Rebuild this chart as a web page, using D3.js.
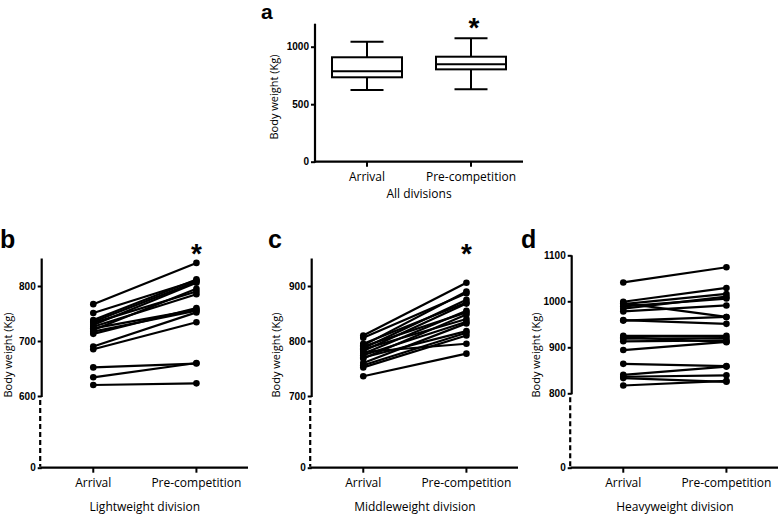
<!DOCTYPE html>
<html><head><meta charset="utf-8">
<script src="https://cdn.jsdelivr.net/npm/d3@7"></script>
<style>
html,body{margin:0;padding:0;background:#fff;}
svg{display:block;}
</style></head>
<body>
<svg id="chart" width="779" height="514"></svg>
<script>
// ---------- DATA ----------
const categories = ["Arrival", "Pre-competition"];
// panel a: box plot (all divisions)
const boxMin    = [623, 630];
const boxQ1     = [734, 803];
const boxMedian = [786, 847];
const boxQ3     = [908, 913];
const boxMax    = [1043, 1073];
const boxTicks  = [0, 500, 1000];

// panel b: lightweight division
const lightArrival = [767, 751, 738, 735, 733, 729, 726, 723, 720, 717, 713, 690, 685, 652, 634, 620];
const lightPre     = [842, 810, 812, 808, 790, 806, 785, 757, 795, 755, 760, 752, 734, 659, 660, 623];
const lightTicks   = [0, 600, 700, 800];

// panel c: middleweight division
const midArrival = [810, 806, 795, 792, 790, 787, 785, 782, 780, 777, 774, 770, 768, 760, 756, 752, 736];
const midPre     = [906, 887, 870, 890, 852, 875, 840, 868, 795, 855, 835, 818, 848, 832, 815, 810, 777];
const midTicks   = [0, 700, 800, 900];

// panel d: heavyweight division
const heavyArrival = [1041, 999, 996, 994, 989, 984, 978, 959, 958, 925, 922, 919, 913, 894, 864, 840, 836, 833, 817];
const heavyPre     = [1074, 1029, 966, 1016, 1006, 1010, 991, 951, 966, 925, 911, 920, 915, 912, 859, 858, 839, 825, 827];
const heavyTicks   = [0, 800, 900, 1000, 1100];

// ---------- DRAWING ----------
const svg = d3.select("#chart");
const labelFont = "'Open Sans', 'DejaVu Sans', sans-serif";
const tickFont = "'Liberation Sans', Arial, sans-serif";
const ink = "#000";

function yAxisDraw(g, x, y, ticks, breakVal) {
  const ax = g.append("g").attr("transform", `translate(${x},0)`);
  const axis = d3.axisLeft(y).tickValues(ticks).tickSize(4).tickPadding(2).tickFormat(d3.format("d"));
  ax.call(axis);
  ax.select(".domain").remove();
  ax.selectAll(".tick line").attr("stroke", ink).attr("stroke-width", 2);
  ax.selectAll(".tick text").attr("font-family", tickFont).attr("font-weight", "bold")
    .attr("font-size", 10).attr("fill", ink);
  const top = y.range()[y.range().length - 1];
  if (breakVal != null) {
    g.append("line").attr("x1", x).attr("x2", x).attr("y1", top).attr("y2", y(breakVal) + 1)
      .attr("stroke", ink).attr("stroke-width", 2.2);
    g.append("line").attr("x1", x - 1.5).attr("x2", x - 1.5).attr("y1", y(breakVal) + 4).attr("y2", y(0) - 1)
      .attr("stroke", ink).attr("stroke-width", 2.2).attr("stroke-dasharray", "5,3");
  } else {
    g.append("line").attr("x1", x).attr("x2", x).attr("y1", top).attr("y2", y(0) + 1)
      .attr("stroke", ink).attr("stroke-width", 2.2);
  }
}

function xAxisDraw(g, xs, y0, xLeft, xRight) {
  g.append("line").attr("x1", xLeft - 1).attr("x2", xRight).attr("y1", y0).attr("y2", y0)
    .attr("stroke", ink).attr("stroke-width", 2.2);
  categories.forEach(c => {
    g.append("line").attr("x1", xs(c)).attr("x2", xs(c)).attr("y1", y0).attr("y2", y0 + 5)
      .attr("stroke", ink).attr("stroke-width", 2);
  });
}

function catLabels(g, xs, yBase, title, titleY) {
  categories.forEach(c => {
    g.append("text").attr("x", xs(c)).attr("y", yBase).attr("text-anchor", "middle")
      .attr("font-family", labelFont).attr("font-size", 12).attr("fill", ink).text(c);
  });
  g.append("text").attr("x", (xs(categories[0]) + xs(categories[1])) / 2).attr("y", titleY)
    .attr("text-anchor", "middle").attr("font-family", labelFont).attr("font-size", 12)
    .attr("fill", ink).text(title);
}

function yTitle(g, x, y) {
  g.append("text").attr("transform", `translate(${x},${y}) rotate(-90)`)
    .attr("text-anchor", "middle").attr("dominant-baseline", "central")
    .attr("font-family", labelFont).attr("font-size", 11).attr("fill", ink).text("Body weight (Kg)");
}

function panelLetter(x, y, t, size) {
  svg.append("text").attr("x", x).attr("y", y).attr("font-family", tickFont)
    .attr("font-weight", "bold").attr("font-size", size || 25).attr("fill", ink).text(t);
}

function star(x, yc) {
  svg.append("text").attr("x", x).attr("y", yc + 16).attr("text-anchor", "middle")
    .attr("font-family", tickFont).attr("font-weight", "bold").attr("font-size", 28)
    .attr("fill", ink).text("*");
}

// ----- Panel a -----
(function () {
  const g = svg.append("g");
  const x0 = 315, x1 = 523;
  const y = d3.scaleLinear().domain([0, 1200]).range([161.7, 23.7]);
  const xs = d3.scalePoint().domain(categories).range([x0, x1]).padding(0.5);
  yAxisDraw(g, x0, y, boxTicks, null);
  xAxisDraw(g, xs, y(0), x0, x1);
  const bw = 70, cw = 33;
  categories.forEach((c, i) => {
    const cx = xs(c);
    g.append("line").attr("x1", cx).attr("x2", cx).attr("y1", y(boxMax[i])).attr("y2", y(boxQ3[i]))
      .attr("stroke", ink).attr("stroke-width", 2);
    g.append("line").attr("x1", cx).attr("x2", cx).attr("y1", y(boxQ1[i])).attr("y2", y(boxMin[i]))
      .attr("stroke", ink).attr("stroke-width", 2);
    g.append("line").attr("x1", cx - cw / 2).attr("x2", cx + cw / 2).attr("y1", y(boxMax[i])).attr("y2", y(boxMax[i]))
      .attr("stroke", ink).attr("stroke-width", 2);
    g.append("line").attr("x1", cx - cw / 2).attr("x2", cx + cw / 2).attr("y1", y(boxMin[i])).attr("y2", y(boxMin[i]))
      .attr("stroke", ink).attr("stroke-width", 2);
    g.append("rect").attr("x", cx - bw / 2).attr("y", y(boxQ3[i])).attr("width", bw)
      .attr("height", y(boxQ1[i]) - y(boxQ3[i])).attr("fill", "#fff").attr("stroke", ink).attr("stroke-width", 2);
    g.append("line").attr("x1", cx - bw / 2).attr("x2", cx + bw / 2).attr("y1", y(boxMedian[i])).attr("y2", y(boxMedian[i]))
      .attr("stroke", ink).attr("stroke-width", 2);
  });
  catLabels(g, xs, 181, "All divisions", 197.5);
  yTitle(g, 273.5, 97);
  panelLetter(261, 19, "a", 21);
  star(xs(categories[1]) + 3, 20.7);
})();

// ----- Paired panels -----
function pairedPanel(opts) {
  const g = svg.append("g");
  const { x0, x1, domain, range, ticks, breakVal, arr, pre, title, letter, letterX, yTitleX, starOn } = opts;
  const y = d3.scaleLinear().domain(domain).range(range);
  const xs = d3.scalePoint().domain(categories).range([x0, x1]).padding(0.5);
  yAxisDraw(g, x0, y, ticks, breakVal);
  xAxisDraw(g, xs, y(0), x0, x1);
  const pairs = arr.map((a, i) => [a, pre[i]]);
  const line = d3.line().x((d, j) => xs(categories[j])).y(d => y(d));
  g.selectAll("path.pair").data(pairs).enter().append("path")
    .attr("d", d => line(d)).attr("fill", "none").attr("stroke", ink).attr("stroke-width", 2.2);
  pairs.forEach(p => {
    p.forEach((v, j) => {
      g.append("circle").attr("cx", xs(categories[j])).attr("cy", y(v)).attr("r", 3.3).attr("fill", ink);
    });
  });
  catLabels(g, xs, 487, title, 511);
  yTitle(g, yTitleX, 355);
  panelLetter(letterX, 248, letter);
  if (starOn) star(xs(categories[1]), 247);
}

pairedPanel({ x0: 41.7, x1: 248, domain: [0, 600, 850], range: [467.7, 396, 258.5],
  ticks: lightTicks, breakVal: 600, arr: lightArrival, pre: lightPre,
  title: "Lightweight division", letter: "b", letterX: 0, yTitleX: 7, starOn: true });
pairedPanel({ x0: 311.7, x1: 518, domain: [0, 700, 950], range: [467.7, 396, 258.5],
  ticks: midTicks, breakVal: 700, arr: midArrival, pre: midPre,
  title: "Middleweight division", letter: "c", letterX: 268, yTitleX: 275, starOn: true });
pairedPanel({ x0: 571.7, x1: 778, domain: [0, 800, 1100], range: [467.7, 393.3, 255.3],
  ticks: heavyTicks, breakVal: 800, arr: heavyArrival, pre: heavyPre,
  title: "Heavyweight division", letter: "d", letterX: 521, yTitleX: 535, starOn: false });
</script>
</body></html>
